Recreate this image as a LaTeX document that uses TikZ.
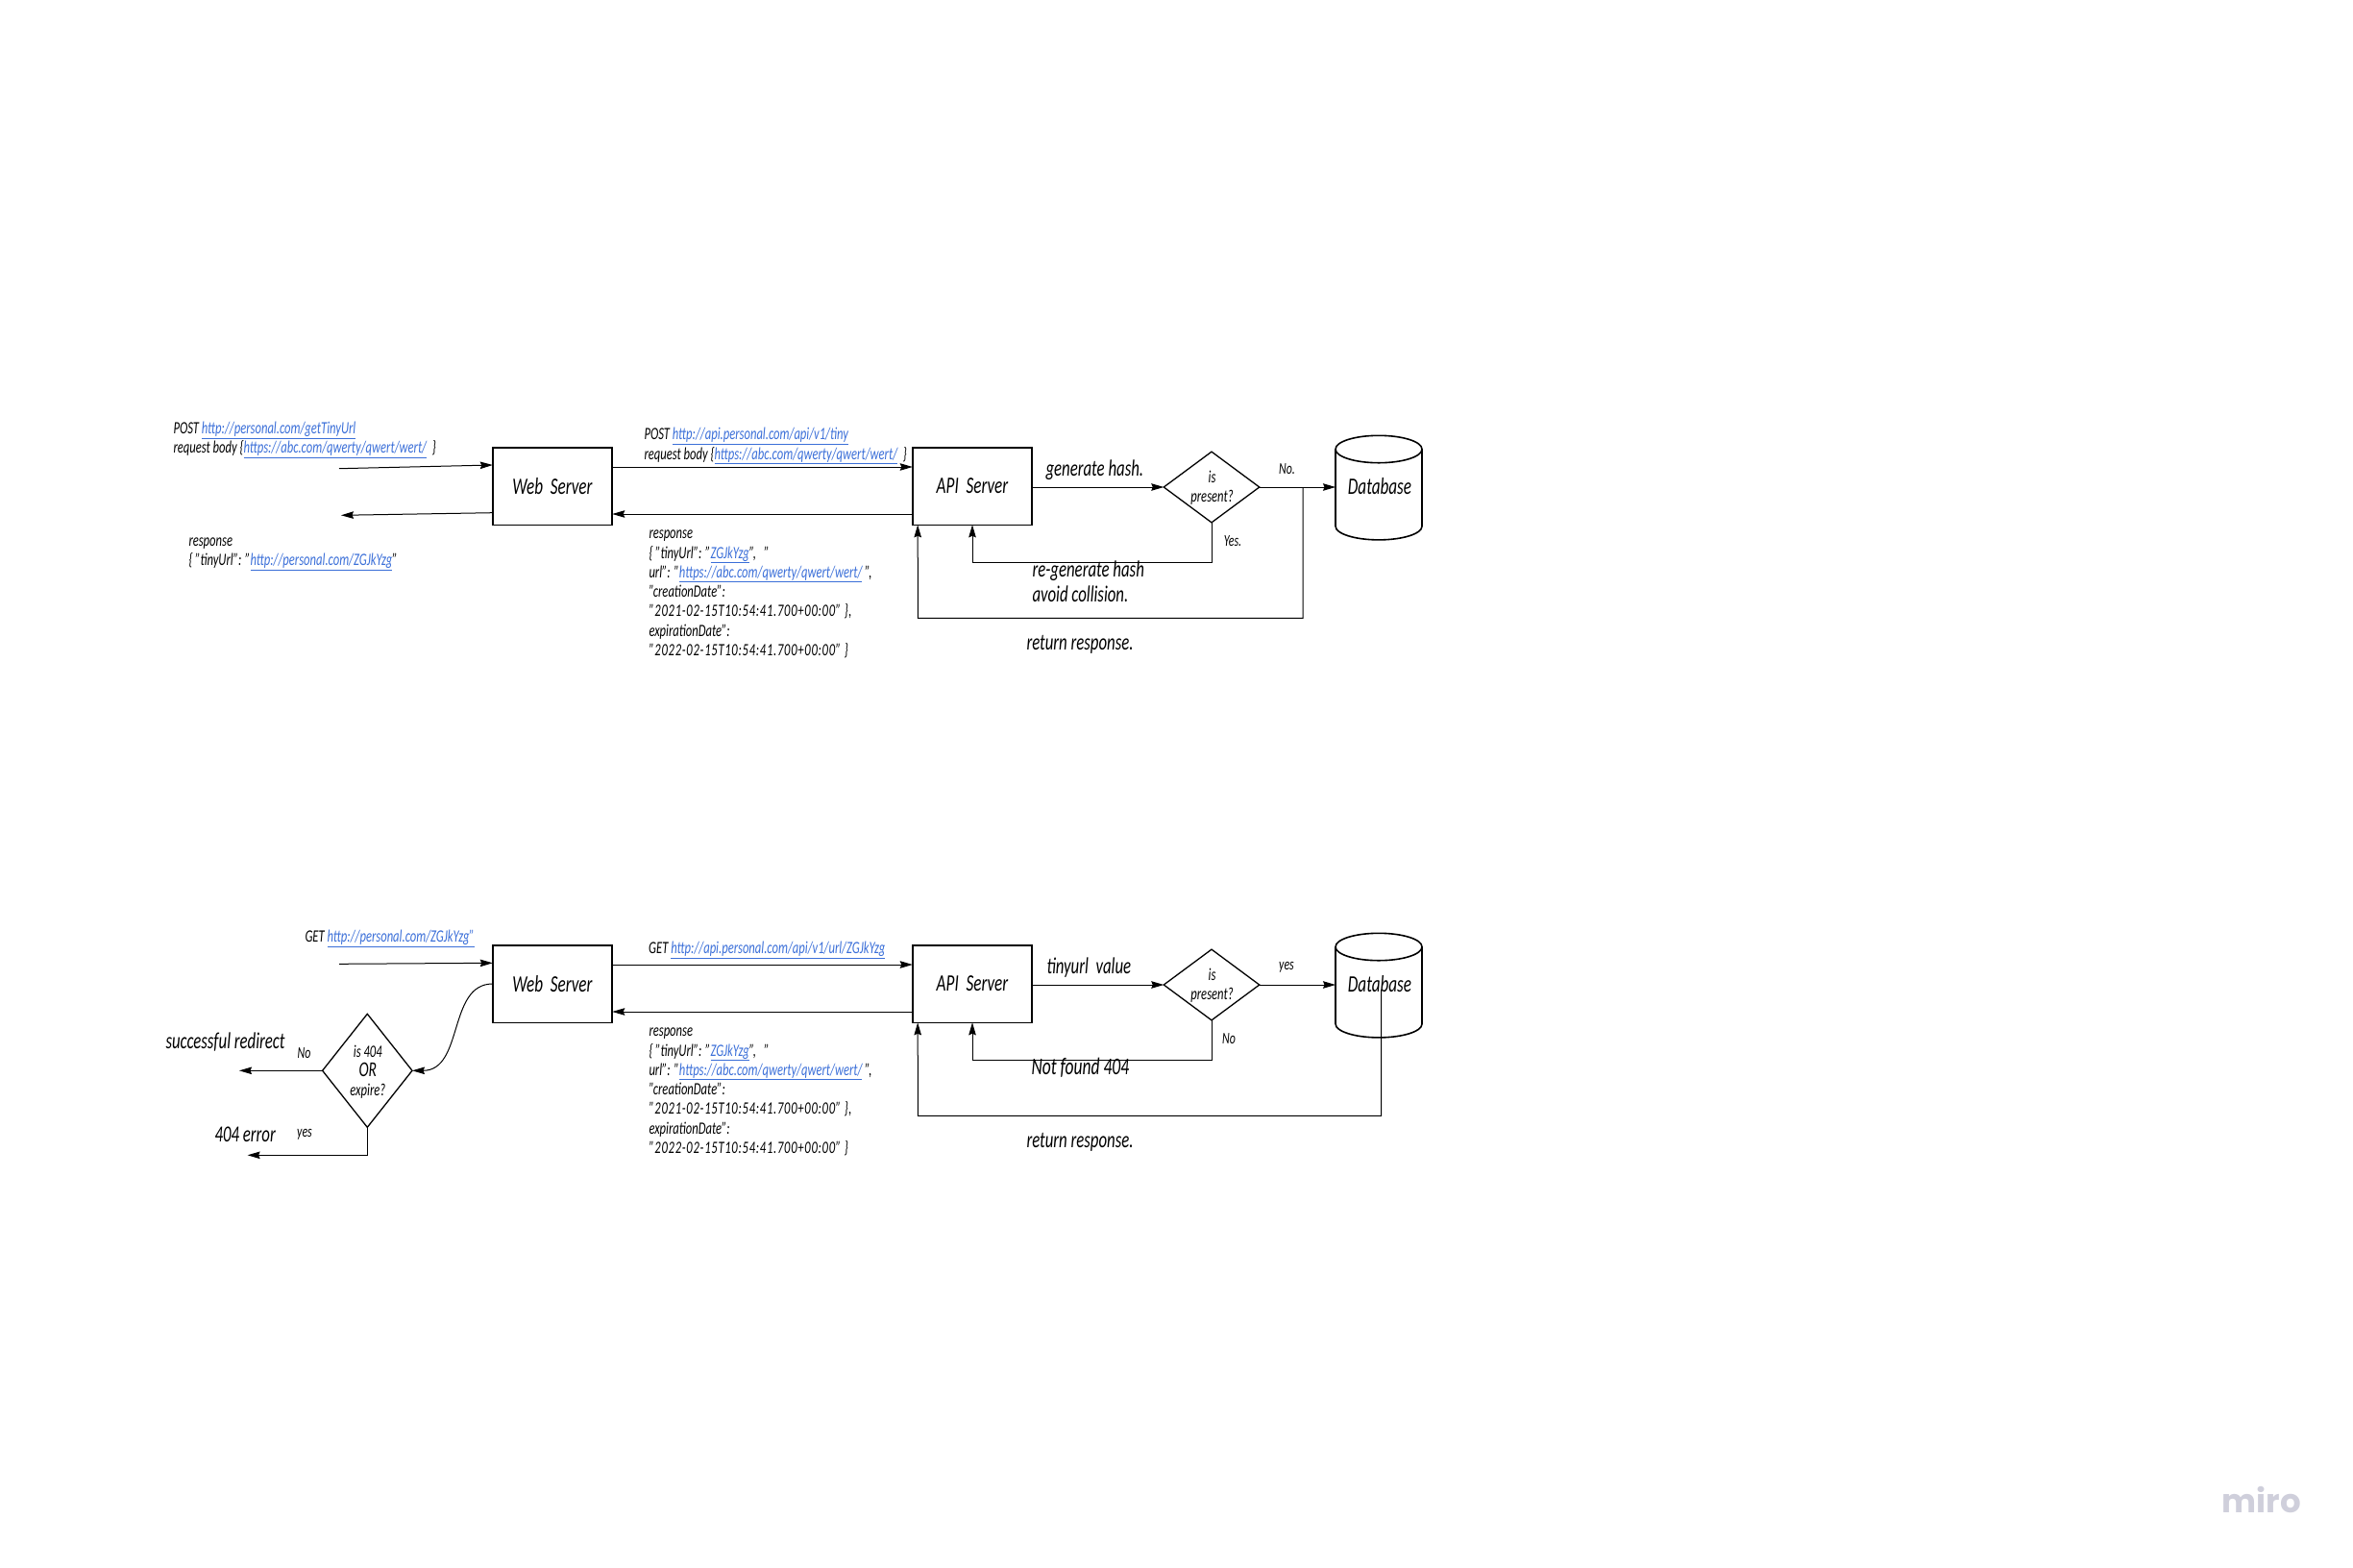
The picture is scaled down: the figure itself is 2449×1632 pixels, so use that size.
\documentclass[tikz,border=0pt]{standalone}
\usepackage{fontspec}
\setmainfont[FakeStretch=0.7]{Carlito}
\newfontfamily\miroface{Poppins}
\usetikzlibrary{shapes.geometric,arrows.meta}
\definecolor{linkblue}{HTML}{3B6FD8}
\definecolor{logogray}{HTML}{CFCFDB}
\newcommand{\lnk}[1]{\textcolor{linkblue}{\underline{#1}}}
\newcommand{\wide}{\addfontfeature{LetterSpace=4}}
\newcommand{\respbody}{response\\ \{ "tinyUrl": "\lnk{ZGJkYzg}",\ \ \ "\\ url": "\lnk{https://abc.com/qwerty/qwert/wert/} ",\\ "creationDate":\\ {\wide "2021-02-15T10:54:41.700+00:00" \},}\\ expirationDate":\\ {\wide "2022-02-15T10:54:41.700+00:00" \}}}
\begin{document}
\begin{tikzpicture}[x=1pt, y=-1pt, line width=1pt,
  flow/.style={-{Stealth[length=13pt,width=7.5pt,inset=1.5pt]}},
  server/.style={draw, line width=1.6pt, minimum width=124.5pt, minimum height=80.6pt, outer sep=0pt, font=\itshape\fontsize{24.5}{24.5}\selectfont},
  check/.style={draw, diamond, line width=1.3pt, inner sep=0pt, outer sep=0pt},
  checktext/.style={inner sep=0pt, align=center, font=\itshape\fontsize{18}{20}\selectfont},
  store/.style={draw, cylinder, shape border rotate=90, aspect=0.39, line width=1.6pt, minimum width=90pt, minimum height=108.6pt, outer sep=0pt, anchor=shape center, font=\itshape\fontsize{24.5}{24.5}\selectfont},
  storetext/.style={inner sep=0pt, font=\itshape\fontsize{24.5}{24.5}\selectfont},
  small/.style={anchor=west, inner sep=0pt, yshift=-1.5pt, align=left, font=\itshape\fontsize{18}{20.3}\selectfont},
  note/.style={anchor=west, inner sep=0pt, yshift=-1.5pt, font=\itshape\fontsize{24}{24}\selectfont},
  tiny/.style={inner sep=0pt, font=\itshape\fontsize{17}{17}\selectfont}]
\useasboundingbox (0,0) rectangle (2449,1632);

% create row
\begin{scope}
\node[server] (webA) at (575,506) {Web\ \ Server};
\node[server] (apiA) at (1012,506) {API\ \ Server};
\node[check, minimum width=99.5pt, minimum height=73.7pt] (hashA) at (1261,507) {};
\node[checktext] (hashtextA) at (1261.5,508) {is\\present?};
\node[store] (dbA) at (1435,507.6) {\phantom{Database}};
\node[storetext] (dbtextA) at (1436,506) {Database};
\coordinate (inA) at (353,487.7);
\coordinate (outA) at (355,536.3);
\coordinate (tapA) at (1356,507);
\coordinate (backA) at (955.4,643.3);
\draw[flow] (inA) -- ([yshift=22pt]webA.west);
\draw[flow] ([yshift=-27.7pt]webA.west) -- (outA);
\draw[flow] ([yshift=20pt]webA.east) -- ([yshift=20pt]apiA.west);
\draw[flow] ([yshift=-29pt]apiA.west) -- ([yshift=-29pt]webA.east);
\draw[flow] ([yshift=-1pt]apiA.east) -- (hashA.west);
\draw[flow] (hashA.east) -- (hashA.east -| dbA.west);
\draw[flow] (hashA.south) -- ++(0,41.6) -| (apiA.south);
\draw[flow] (tapA) |- (backA) -- ([xshift=5.4pt]apiA.south west);
\node[small] (postA) at (180,456.5) {POST \lnk{http://personal.com/getTinyUrl}\\ request body \{\lnk{https://abc.com/qwerty/qwert/wert/}\ \ \}};
\node[small] (replyA) at (196,575) {response\\ \{ "tinyUrl": "\lnk{http://personal.com/ZGJkYzg}"};
\node[small] (callA) at (670,462.7) {POST \lnk{http://api.personal.com/api/v1/tiny}\\ request body \{\lnk{https://abc.com/qwerty/qwert/wert/}\ \ \}};
\node[small] (respA) at (675,617) {\respbody};
\node[note] (genA) at (1088,487.7) {generate hash.};
\node[note, align=left, font=\itshape\fontsize{24}{26}\selectfont] (regenA) at (1074,604) {re-generate hash\\ avoid collision.};
\node[note] (retA) at (1068,669) {return response.};
\node[tiny] (noA) at (1339.5,487.7) {No.};
\node[tiny] (yesA) at (1283,562.7) {Yes.};
\end{scope}

% lookup row
\begin{scope}[shift={(0,518)}]
\node[server] (webB) at (575,506) {Web\ \ Server};
\node[server] (apiB) at (1012,506) {API\ \ Server};
\node[check, minimum width=99.5pt, minimum height=73.7pt] (hashB) at (1261,507) {};
\node[checktext] (hashtextB) at (1261.5,508) {is\\present?};
\node[store] (dbB) at (1435,507.6) {\phantom{Database}};
\node[storetext] (dbtextB) at (1436,506) {Database};
\node[check, minimum width=93.4pt, minimum height=118pt] (expB) at (382.3,596.3) {};
\node[checktext] (exptextB) at (382.8,597.4) {is 404\\{\fontsize{22}{20}\selectfont OR}\\expire?};
\coordinate (inB) at (353,485.3);
\coordinate (okB) at (249,596.3);
\coordinate (errB) at (257.6,684.3);
\coordinate (backB) at (955.4,643.3);
\draw[flow] (inB) -- ([yshift=21.7pt]webB.west);
\draw[flow] (webB.west) .. controls +(-47,0) and +(54,0) .. (expB.east);
\draw[flow] (expB.west) -- (okB);
\draw[flow] (expB.south) |- (errB);
\draw[flow] ([yshift=20pt]webB.east) -- ([yshift=20pt]apiB.west);
\draw[flow] ([yshift=-29pt]apiB.west) -- ([yshift=-29pt]webB.east);
\draw[flow] ([yshift=-1pt]apiB.east) -- (hashB.west);
\draw[flow] (hashB.east) -- (hashB.east -| dbB.west);
\draw[flow] (hashB.south) -- ++(0,41.6) -| (apiB.south);
\draw[flow] ([xshift=1.6pt,yshift=-6pt]dbtextB.center) |- (backB) -- ([xshift=5.4pt]apiB.south west);
\node[small] (getB) at (317,457.7) {GET \lnk{http://personal.com/ZGJkYzg"}};
\node[small] (callB) at (674.7,469.7) {GET \lnk{http://api.personal.com/api/v1/url/ZGJkYzg}};
\node[small] (respB) at (675,617) {\respbody};
\node[note] (goodB) at (172,565.5) {successful redirect};
\node[note] (failB) at (223,661) {404 error};
\node[note] (valueB) at (1089,487.7) {tinyurl\ \ value};
\node[note, font=\itshape\fontsize{25}{25}\selectfont] (missB) at (1073,592) {Not found 404};
\node[note] (retB) at (1068,669) {return response.};
\node[tiny] (noexpB) at (316.5,578) {No};
\node[tiny] (yesexpB) at (317,662.7) {yes};
\node[tiny] (yesB) at (1339,488.7) {yes};
\node[tiny] (noB) at (1279,562.7) {No};
\end{scope}

\node[text=logogray, inner sep=0pt, font=\miroface\bfseries\fontsize{34}{34}\selectfont] (logo) at (2354,1561) {miro};
\end{tikzpicture}
\end{document}
